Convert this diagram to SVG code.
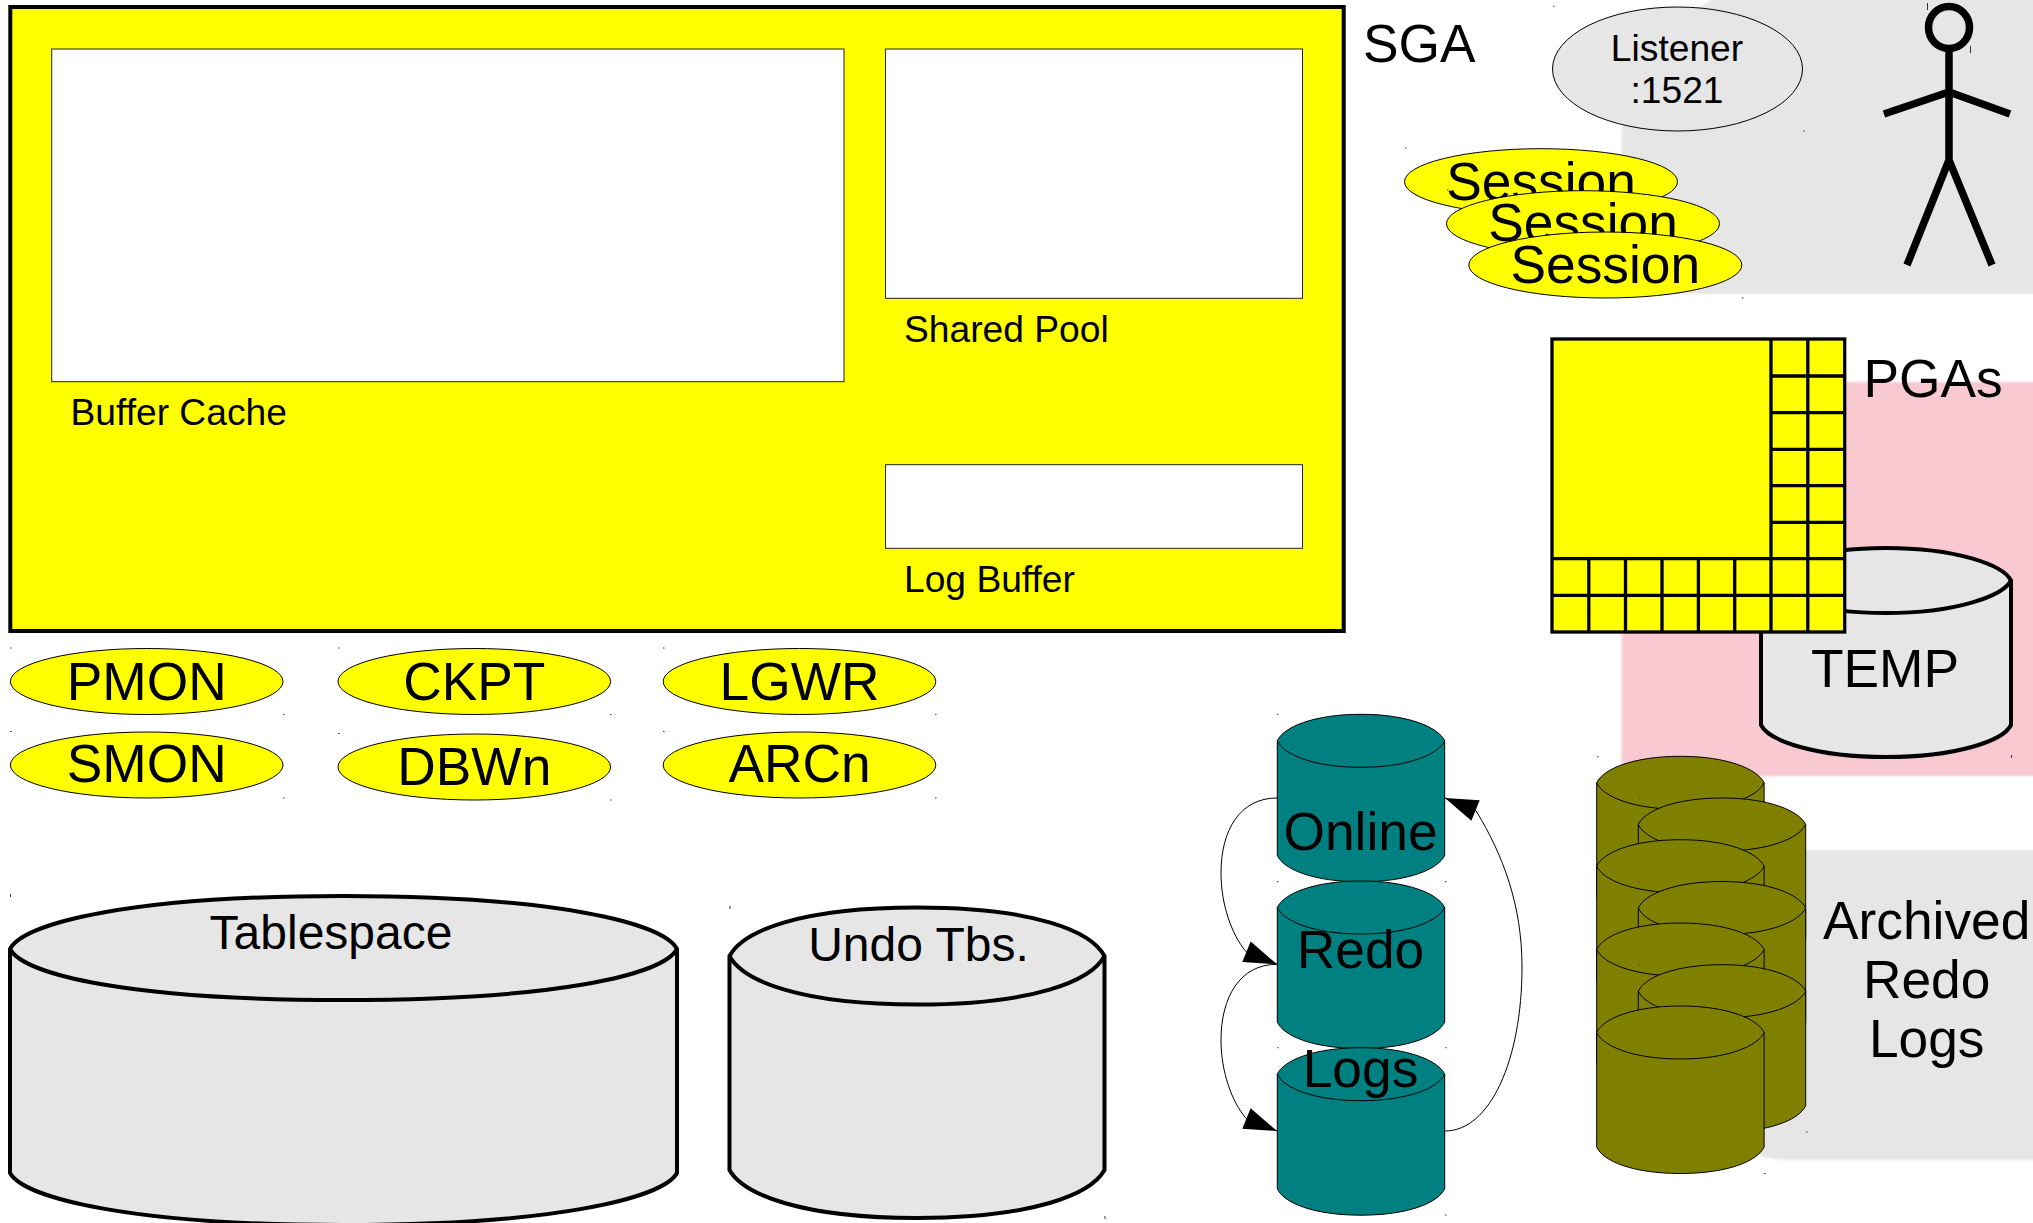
<svg xmlns="http://www.w3.org/2000/svg" xmlns:xlink="http://www.w3.org/1999/xlink" width="2033" height="1223" viewBox="0 0 2033 1223">
<style>
text{font-family:"Liberation Sans",Arial,sans-serif;fill:#000}
.big{font-size:53.3px}
.mid{font-size:48px}
.sm{font-size:37.2px}
.c{text-anchor:middle}
.proc{fill:#ff0;stroke:#000;stroke-width:1}
.thick{fill:#e6e6e6;stroke:#000;stroke-width:4}
.lip{fill:none;stroke:#000;stroke-width:4}
.box{fill:#fff;stroke:#222;stroke-width:1}
.grid{fill:none;stroke:#000;stroke-width:3.3}
.teal{fill:#008080}
.olive{fill:#808000}
.cn{fill:none;stroke:#000;stroke-width:1;marker-end:url(#arrow)}
.fig{fill:none;stroke:#000;stroke-width:7.5}
</style>
<defs>
<filter id="soft" x="-5%" y="-5%" width="110%" height="110%"><feGaussianBlur stdDeviation="0.9"/></filter>
<marker id="arrow" markerUnits="userSpaceOnUse" markerWidth="34" markerHeight="22" refX="33" refY="11" orient="auto" overflow="visible"><path d="M0,0L33,11L0,22Z" fill="#000"/></marker>
<g id="cyl" stroke="#000" stroke-width="1">
<path d="M0,26.5C6,13 36,0 83.7,0C131,0 161,13 167.4,26.5V141C161,155 131,167.5 83.7,167.5C36,167.5 6,155 0,141Z"/>
<path d="M0,26.5C6,40 36,53 83.7,53C131,53 161,40 167.4,26.5" fill="none"/>
</g>
</defs>
<rect width="2033" height="1223" fill="#fff"/>
<g id="backgrounds" filter="url(#soft)">
<path d="M1621.5,294V140C1621.5,90 1660,25 1725,-8H2060V294Z" fill="#e6e6e6"/>
<rect x="1621.5" y="382" width="440" height="394" fill="#f8c9d0"/>
<path d="M1700,850H2060V1160H1790Q1765,1160 1745,1150L1700,1100Z" fill="#e6e6e6"/>
</g>
<g id="sga">
<rect x="10.3" y="7" width="1333.4" height="624" fill="#ff0" stroke="#000" stroke-width="4"/>
<text class="big" x="1363" y="62">SGA</text>
</g>
<g id="buffer-cache"><rect class="box" x="51.7" y="49" width="792.3" height="332.7"/><text class="sm" x="70.5" y="425">Buffer Cache</text></g>
<g id="shared-pool"><rect class="box" x="885.5" y="49" width="417" height="249.3"/><text class="sm" x="904" y="341.7">Shared Pool</text></g>
<g id="log-buffer"><rect class="box" x="885.5" y="464.7" width="417" height="83.6"/><text class="sm" x="904" y="591.7">Log Buffer</text></g>
<g id="listener"><ellipse cx="1677.5" cy="69" rx="125" ry="62" fill="#e6e6e6" stroke="#000" stroke-width="1"/><text class="sm c" x="1677" y="60.7">Listener</text><text class="sm c" x="1677" y="102.7">:1521</text></g>
<g id="user" class="fig"><ellipse cx="1949" cy="27.5" rx="20.5" ry="21"/><path d="M1949,49V160M1884,114L1949,92L2010,114M1907,265L1949,160L1992,265"/></g>
<g id="session1"><ellipse class="proc" cx="1541" cy="181.7" rx="136.5" ry="33"/><text class="big c" x="1541" y="200">Session</text></g>
<g id="session2"><ellipse class="proc" cx="1583" cy="223.7" rx="136.5" ry="33"/><text class="big c" x="1583" y="241">Session</text></g>
<g id="session3"><ellipse class="proc" cx="1605.3" cy="265" rx="136.5" ry="33"/><text class="big c" x="1605.3" y="282.7">Session</text></g>
<g id="temp">
<path class="thick" d="M1761,580.5C1769,565 1816,548 1886,548C1956,548 2003,565 2011,580.5V725C2003,741 1956,757 1886,757C1816,757 1769,741 1761,725Z"/>
<path class="lip" d="M1761,580.5C1769,596 1816,613 1886,613C1956,613 2003,596 2011,580.5"/>
<text class="big c" x="1885" y="686.7">TEMP</text>
</g>
<g id="pgas">
<rect x="1552" y="339" width="292.7" height="293" fill="#ff0" stroke="#000" stroke-width="3.3"/>
<path class="grid" d="M1771,339V632M1807.8,339V632M1588.8,558.7V632M1625.5,558.7V632M1662,558.7V632M1698.4,558.7V632M1734.7,558.7V632M1771,376H1844.7M1771,412.7H1844.7M1771,449.3H1844.7M1771,485.7H1844.7M1771,522.3H1844.7M1552,558.7H1844.7M1552,595.3H1844.7"/>
<text class="big" x="1863.5" y="397">PGAs</text>
</g>
<g id="pmon"><ellipse class="proc" cx="146.7" cy="681.5" rx="136.3" ry="33"/><text class="big c" x="146.7" y="699.6">PMON</text></g>
<g id="ckpt"><ellipse class="proc" cx="474.3" cy="681.5" rx="136.3" ry="33"/><text class="big c" x="474.3" y="699.6">CKPT</text></g>
<g id="lgwr"><ellipse class="proc" cx="799.5" cy="681.5" rx="136.3" ry="33"/><text class="big c" x="799.5" y="699.6">LGWR</text></g>
<g id="smon"><ellipse class="proc" cx="146.7" cy="765" rx="136.3" ry="33"/><text class="big c" x="146.7" y="782.2">SMON</text></g>
<g id="dbwn"><ellipse class="proc" cx="474.3" cy="767" rx="136.3" ry="33"/><text class="big c" x="474.3" y="785">DBWn</text></g>
<g id="arcn"><ellipse class="proc" cx="799.5" cy="765" rx="136.3" ry="33"/><text class="big c" x="799.5" y="782.2">ARCn</text></g>
<g id="tablespace">
<path class="thick" d="M10,949C24,923 130,896 343,896C556,896 663,923 677,949V1173C663,1198 556,1225 343,1225C130,1225 24,1198 10,1173Z"/>
<path class="lip" d="M10,949C24,975 130,1000 343,1000C556,1000 663,975 677,949"/>
<text class="mid c" x="331" y="949">Tablespace</text>
</g>
<g id="undo">
<path class="thick" d="M729.5,956C743,931 800,907.5 917,907.5C1034,907.5 1091,931 1104.5,956V1170C1091,1194 1034,1218 917,1218C800,1218 743,1194 729.5,1170Z"/>
<path class="lip" d="M729.5,956C743,981 800,1004.5 917,1004.5C1034,1004.5 1091,981 1104.5,956"/>
<text class="mid c" x="918.5" y="960.5">Undo Tbs.</text>
</g>
<g id="online"><use href="#cyl" xlink:href="#cyl" class="teal" x="1277.3" y="714.3"/><text class="big c" x="1360.5" y="849.5">Online</text></g>
<g id="redo"><use href="#cyl" xlink:href="#cyl" class="teal" x="1277.3" y="881"/><text class="big c" x="1360.5" y="968">Redo</text></g>
<g id="logs"><use href="#cyl" xlink:href="#cyl" class="teal" x="1277.3" y="1047.7"/><text class="big c" x="1360.5" y="1086.5">Logs</text></g>
<g id="archived">
<use href="#cyl" xlink:href="#cyl" class="olive" x="1596.7" y="756.3"/>
<use href="#cyl" xlink:href="#cyl" class="olive" x="1638.3" y="798"/>
<use href="#cyl" xlink:href="#cyl" class="olive" x="1596.7" y="839.7"/>
<use href="#cyl" xlink:href="#cyl" class="olive" x="1638.3" y="881.5"/>
<use href="#cyl" xlink:href="#cyl" class="olive" x="1596.7" y="923"/>
<use href="#cyl" xlink:href="#cyl" class="olive" x="1638.3" y="964.7"/>
<use href="#cyl" xlink:href="#cyl" class="olive" x="1596.7" y="1006"/>
<text class="big c" x="1926.7" y="938.5">Archived</text>
<text class="big c" x="1926.7" y="997.5">Redo</text>
<text class="big c" x="1926.7" y="1056.5">Logs</text>
</g>
<g id="connectors">
<path class="cn" d="M1277,798C1240,798 1221,830 1221,873C1221,905 1232,935 1246,951.6L1277,964.3"/>
<path class="cn" d="M1277,964.3C1240,964.3 1221,997 1221,1040C1221,1072 1232,1102 1246,1118.3L1277,1131"/>
<path class="cn" d="M1445,1131C1490,1131 1522,1060 1522,967C1522,905 1503,855 1476,810.7L1445,798"/>
</g>
<path id="ticks" fill="none" stroke="#333" stroke-width="1" d="M10,648h1.5M338,648h1.5M663,648h1.5M283,714.6h1.5M610,714.6h1.5M935,714.6h1.5M10,731.5h1.5M338,733.5h1.5M663,731.5h1.5M283,798h1.5M610,800h1.5M935,798h1.5M10.5,894v3M730,906v3M1105,1216v3M1277,714.3h1.5M1277,881.7h1.5M1445,881.7h1.5M1277,1047.7h1.5M1445,1047.7h1.5M1445,1215h1.5M1597,756.7h1.5M2011.5,755v3M1639,798h1.5M1639,882h1.5M1639,965h1.5M1806,1132h1.5M1764,1173.5h1.5M1405,148h1.5M1447,190h1.5M1742,298h1.5M1553,6.3h1.5M1803,131h1.5M1927.5,3v7M1970.5,46v7"/>
</svg>
